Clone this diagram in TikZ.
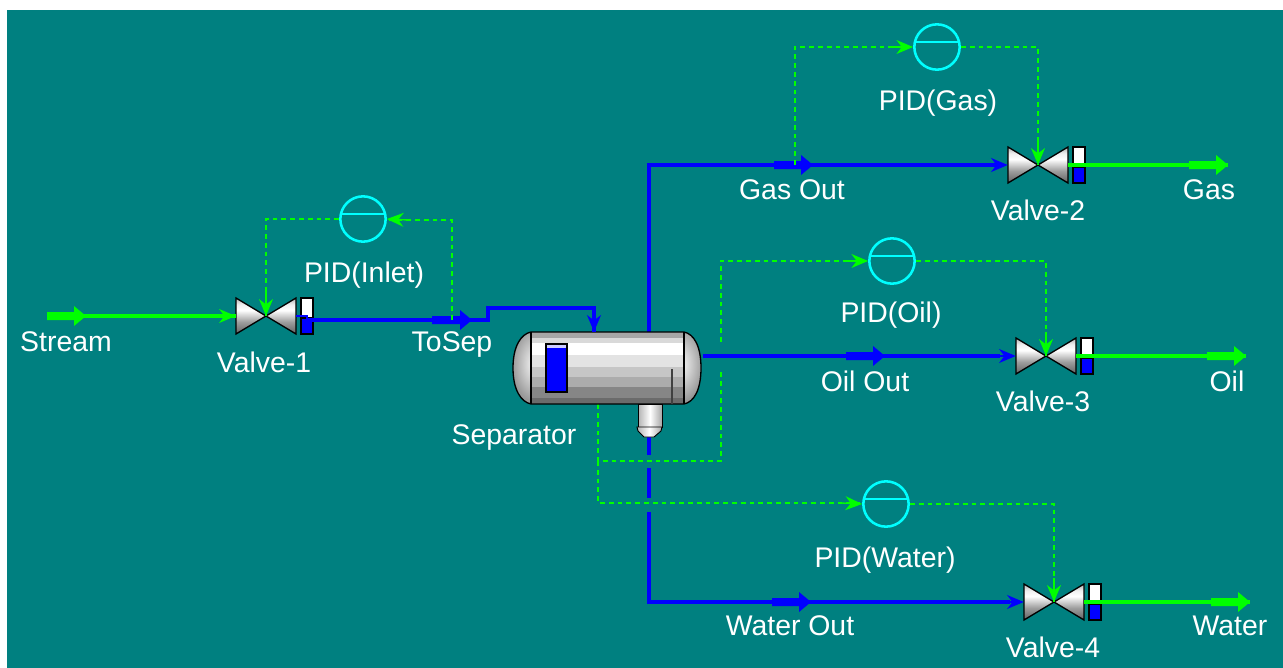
\documentclass[tikz,border=0pt]{standalone}
\usepackage{fontspec}
\setmainfont{Liberation Sans}
\usetikzlibrary{arrows.meta}
\definecolor{bgteal}{RGB}{0,128,128}
\definecolor{pidcyan}{RGB}{0,255,255}
\definecolor{sigblue}{RGB}{0,0,255}
\definecolor{siggreen}{RGB}{0,255,0}
\pgfdeclareverticalshading{valvegrad}{100bp}{color(0bp)=(black!62);color(25bp)=(black!62);color(42bp)=(black!38);color(58bp)=(white);color(66bp)=(black!6);color(75bp)=(black!30);color(100bp)=(black!30)}
\tikzset{
  x=0.75pt,y=-0.75pt,
  lbl/.style={inner sep=0pt,text=white,font=\fontsize{21.3}{25}\selectfont},
  anchorpt/.style={inner sep=0pt,minimum size=0pt},
  ctl/.style={circle,draw=pidcyan,line width=1.9pt,minimum size=34pt,inner sep=0pt},
  barb/.style={-{Stealth[inset=4pt,length=12.5pt,width=10.5pt]}},
  bluepipe/.style={draw=sigblue,line width=2.8pt},
  greenpipe/.style={draw=siggreen,line width=2.3pt},
  sig/.style={draw=siggreen,line width=1.3pt,dash pattern=on 3.6pt off 3pt},
  halo/.style={draw=bgteal,line width=5pt},
  cone/.style={draw=black,line width=1pt,shading=valvegrad},
  glass/.style={draw=black,line width=1.1pt,fill=white},
  level/.style={draw=black,line width=1.1pt,fill=sigblue},
}
\newcommand{\valve}[4]{% cx, cy, name, blue-top
  \shade[cone] (#1-30,#2-18) -- (#1,#2) -- (#1-30,#2+18) -- cycle;
  \shade[cone] (#1+30,#2-18) -- (#1,#2) -- (#1+30,#2+18) -- cycle;
  \draw[glass] (#1+35,#2-18) rectangle (#1+47,#2+18);
  \draw[level] (#1+35,#4) rectangle (#1+47,#2+18);
  \node[anchorpt] (#3c) at (#1,#2) {};
  \node[anchorpt] (#3l) at (#1-30,#2) {};
  \node[anchorpt] (#3r) at (#1+30,#2) {};
}
\newcommand{\flowtail}[4]{% x1,x2,y,colour thick arrow
  \fill[#4] (#1,#3-4) -- (#2-12,#3-4) -- (#2-12,#3-10) -- (#2,#3) -- (#2-12,#3+10) -- (#2-12,#3+4) -- (#1,#3+4) -- cycle;
}
\newcommand{\pidctl}[3]{% cx,cy,name
  \node[ctl] (#3) at (#1,#2) {};
  \draw[pidcyan,line width=1.5pt] (#1-22.5,#2-5) -- (#1+22.5,#2-5);
}
\newcommand{\vesselpath}{(531,332) -- (684,332) .. controls (694,334) and (701,346) .. (701,368)
     .. controls (701,390) and (694,402) .. (684,404) -- (531,404)
     .. controls (521,402) and (513,390) .. (513,368) .. controls (513,346) and (521,334) .. (531,332) -- cycle}
\begin{document}
\begin{tikzpicture}
\useasboundingbox (0,0) rectangle (1283,668);
\fill[white] (0,0) rectangle (1283,668);
\fill[bgteal] (7,10) rectangle (1283,668);

% ---------- anchors
\node[anchorpt] (sA) at (47,316) {};
\node[anchorpt] (tapIn) at (452,320) {};
\node[anchorpt] (sepTop) at (594,332) {};
\node[anchorpt] (gasTop) at (649,332) {};
\node[anchorpt] (oilOutR) at (703,356) {};
\node[anchorpt] (bootB) at (649,437) {};
\node[anchorpt] (sepB) at (598,404) {};
\node[anchorpt] (tapGas) at (795,165) {};
\node[anchorpt] (gasEnd) at (1228,165) {};
\node[anchorpt] (oilEnd) at (1246,356) {};
\node[anchorpt] (waterEnd) at (1250,602) {};

% ---------- pipes (under valves)
\coordinate (gc1) at (gasTop |- gasEnd);
\coordinate (wc1) at (bootB |- waterEnd);
\draw[bluepipe,line join=miter] (gasTop) -- (gc1) -- (1000,165);
\draw[bluepipe,line join=miter] (bootB) -- (wc1) -- (1010,602);
% gaps of the stem where the signal lines cross it
\draw[halo] (649,455) -- (649,468);
\draw[halo] (649,498) -- (649,512);

% ---------- signal lines
\draw[sig] (sepB) -- (598,461) -- (721,461) -- (721,261) -- (869,261);
\draw[sig] (598,461) -- (598,503) -- (862,503);
% gap of the signal where the oil line crosses it
\draw[halo] (721,345) -- (721,368);
\draw[bluepipe] (oilOutR) -- (1000,356);

% ---------- valves
\valve{266}{316}{vA}{318}
\valve{1038}{165}{vB}{167}
\valve{1046}{356}{vC}{358}
\valve{1054}{602}{vD}{604}

% ---------- separator
\begin{scope}
  \clip \vesselpath;
  \fill[gray!70] (531,332) rectangle (684,338);
  \fill[gray!30] (531,338) rectangle (684,343);
  \fill[white] (531,343) rectangle (684,355);
  \fill[gray!22] (531,355) rectangle (684,367);
  \fill[gray!45] (531,367) rectangle (684,377);
  \fill[gray!65] (531,377) rectangle (684,387);
  \fill[gray!95] (531,387) rectangle (684,398);
  \fill[black!58] (531,398) rectangle (684,404);
  \fill[gray!80] (510,330) rectangle (531,406);
  \fill[gray!80] (684,330) rectangle (703,406);
  \begin{scope}
    \clip (510,330) rectangle (531,406);
    \shade[inner color=white,outer color=gray!80] (536,364) ellipse (24 and 38);
  \end{scope}
  \begin{scope}
    \clip (684,330) rectangle (703,406);
    \shade[inner color=white,outer color=gray!80] (679,364) ellipse (24 and 38);
  \end{scope}
\end{scope}
\draw[black,line width=1pt] \vesselpath;
\draw[black,line width=1pt] (531,332) -- (531,404) (684,332) -- (684,404);
\draw[black!75,line width=1pt] (672,369) -- (672,404);
\draw[level] (546,344) rectangle (567,392);
\fill[white!80!sigblue] (547,345) rectangle (566,348);
% boot
\shade[left color=gray!60,right color=gray!70,middle color=white,draw=black,line width=0.6pt] (638,404) rectangle (662,427);
\shade[left color=gray!60,right color=gray!70,middle color=white,draw=black,line width=0.7pt] (637,427) -- (662,427) -- (661,431) -- (654,437) -- (644,437) -- (638,431) -- cycle;

% ---------- controllers
\pidctl{363}{219}{cIn}
\pidctl{937}{47}{cGas}
\pidctl{892}{261}{cOil}
\pidctl{886}{504}{cWat}

% ---------- ToSep
\draw[sigblue,line width=1.6pt] (vAr) -- (307,316) -- (307,320);
\draw[bluepipe,line join=miter] (307,320) -- (488,320) -- (488,308) -- (594,308) -- (sepTop);
\draw[sigblue,line width=1pt,barb] (594,312) -- (sepTop);

% ---------- out-of-valve streams
\draw[greenpipe] (vBr) -- (gasEnd);
\draw[greenpipe] (vCr) -- (oilEnd);
\draw[greenpipe] (vDr) -- (waterEnd);
\draw[greenpipe] (sA) -- (vAl);

% ---------- thick flow markers
\flowtail{432}{472}{320}{sigblue}
\flowtail{774}{813}{165}{sigblue}
\flowtail{846}{885}{356}{sigblue}
\flowtail{772}{811}{602}{sigblue}
\flowtail{47}{86}{316}{siggreen}
\flowtail{1189}{1228}{165}{siggreen}
\flowtail{1207}{1246}{356}{siggreen}
\flowtail{1211}{1250}{602}{siggreen}

% ---------- inlet barbs
\draw[siggreen,line width=1pt,barb] (212,316) -- (vAl);
\draw[sigblue,line width=1pt,barb] (982,165) -- (vBl);
\draw[sigblue,line width=1pt,barb] (990,356) -- (vCl);
\draw[sigblue,line width=1pt,barb] (998,602) -- (vDl);

% ---------- control signals
\draw[sig] (tapIn) -- (452,220) -- (387,220);
\draw[siggreen,line width=1pt,barb] (408,220) -- (cIn.east);
\draw[sig] (cIn.west) -- (266,219) -- (vAc);
\draw[siggreen,line width=1pt,barb] (266,292) -- (vAc);

\draw[sig] (tapGas) -- (795,47) -- (cGas.west);
\draw[siggreen,line width=1pt,barb] (892,47) -- (cGas.west);
\draw[sig] (cGas.east) -- (1038,47) -- (vBc);
\draw[siggreen,line width=1pt,barb] (1038,141) -- (vBc);

\draw[siggreen,line width=1pt,barb] (848,261) -- (cOil.west);
\draw[sig] (cOil.east) -- (1046,261) -- (vCc);
\draw[siggreen,line width=1pt,barb] (1046,332) -- (vCc);

\draw[siggreen,line width=1pt,barb] (841,503) -- (cWat.west);
\draw[sig] (cWat.east) -- (1054,504) -- (vDc);
\draw[siggreen,line width=1pt,barb] (1054,578) -- (vDc);

% ---------- labels
\node[lbl] (t1) at (66,342) {Stream};
\node[lbl] (t2) at (264,362) {Valve-1};
\node[lbl] (t3) at (364,275) {PID(Inlet)};
\node[lbl] (t4) at (452,345) {ToSep};
\node[lbl] (t5) at (514,438) {Separator};
\node[lbl] (t6) at (792,190) {Gas Out};
\node[lbl] (t7) at (1038,210) {Valve-2};
\node[lbl] (t8) at (1209,190) {Gas};
\node[lbl] (t9) at (938,103) {PID(Gas)};
\node[lbl] (t10) at (891,315) {PID(Oil)};
\node[lbl] (t11) at (865,381) {Oil Out};
\node[lbl] (t12) at (1043,401) {Valve-3};
\node[lbl] (t13) at (1227,381) {Oil};
\node[lbl] (t14) at (885,560) {PID(Water)};
\node[lbl] (t15) at (790,626) {Water Out};
\node[lbl] (t16) at (1053,647) {Valve-4};
\node[lbl] (t17) at (1230,626) {Water};
\end{tikzpicture}
\end{document}
